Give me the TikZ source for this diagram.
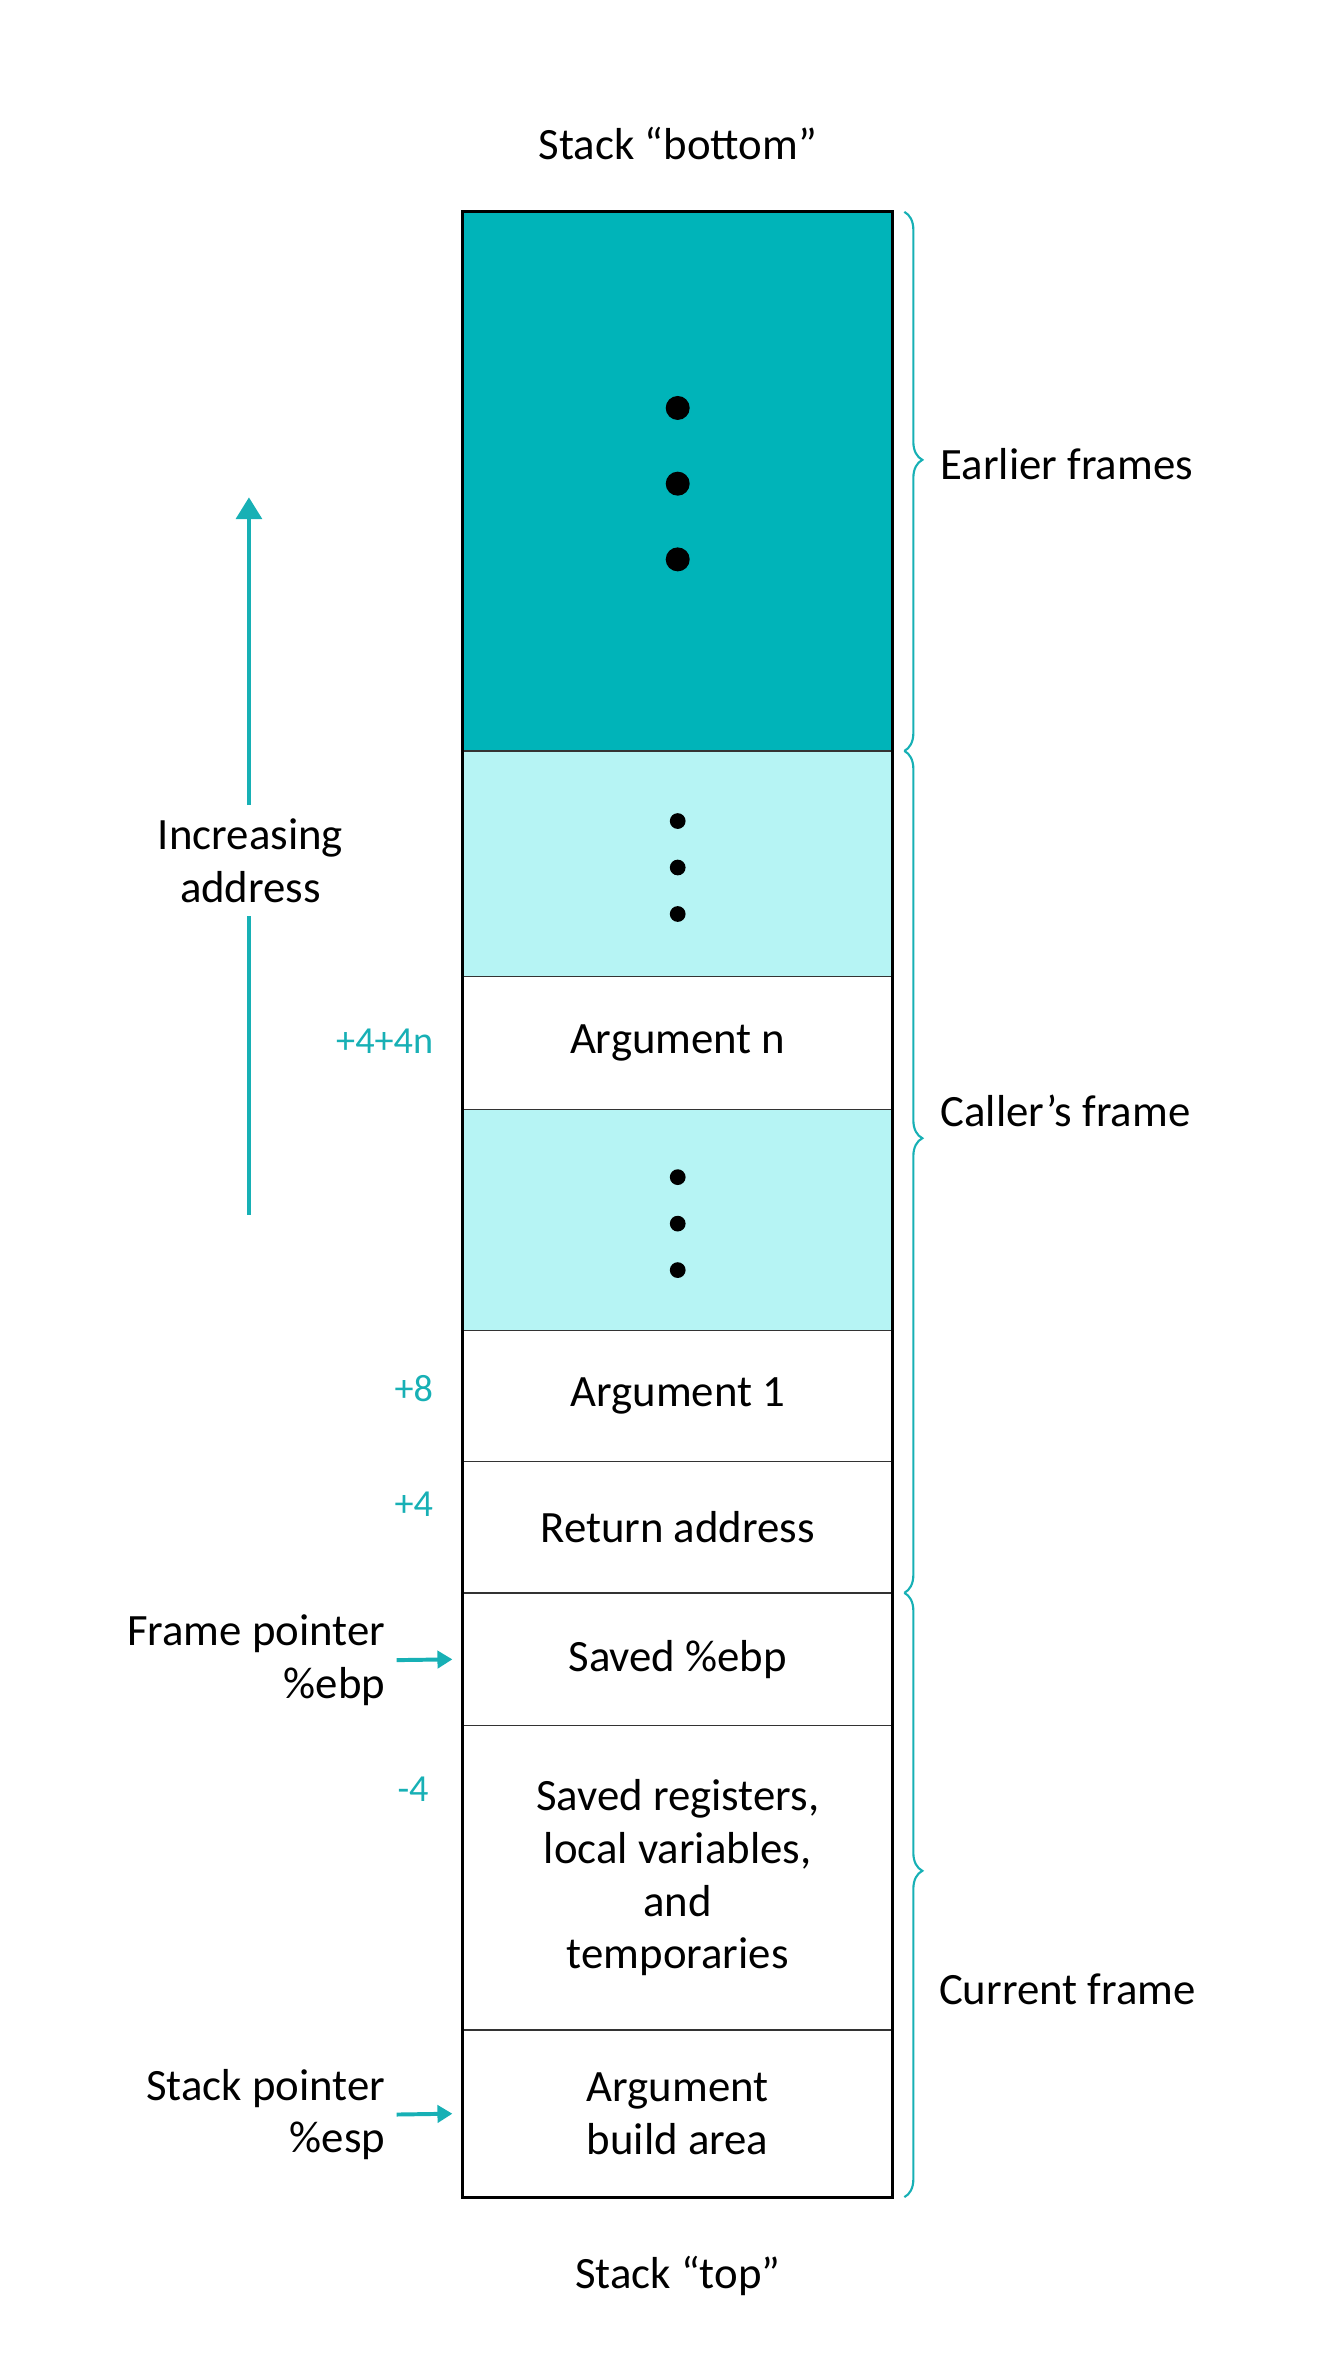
\documentclass[tikz,border=0pt]{standalone}
\usepackage{fontspec}
\setmainfont{Carlito}
\usetikzlibrary{arrows.meta,positioning,decorations.pathreplacing}
\definecolor{DarkTeal}{HTML}{00B4B9}
\definecolor{PaleTeal}{HTML}{B6F4F4}
\definecolor{Accent}{HTML}{17B0B5}

\begin{document}
\begin{tikzpicture}[x=0.02cm, y=-0.02cm, node distance=0cm,
  cell/.style={draw=black!80, line width=0.5pt, minimum width=5.73cm, outer sep=0pt, align=center, font=\fontsize{17}{20}\selectfont},
  txt/.style={font=\fontsize{17}{20}\selectfont, align=center},
  offs/.style={font=\fontsize{14.5}{17}\selectfont, text=Accent, anchor=east},
  bigdot/.style={fill=black, circle, inner sep=0pt, minimum size=0.32cm},
  smalldot/.style={fill=black, circle, inner sep=0pt, minimum size=0.21cm},
  frame brace/.style={draw=Accent, line width=0.8pt, decorate, decoration={brace, amplitude=0.24cm, aspect=0.46, raise=4.5pt}},
  ptr/.style={draw=Accent, line width=1.5pt, -{Triangle[length=2mm,width=2.3mm]}}]
   \useasboundingbox (0,0) rectangle (886,1575);
   \node[txt] (bottom) at (452,95.5) {Stack “bottom”};
   % the stack, from bottom (high addresses) to top
   \node[cell, fill=DarkTeal, minimum height=7.19cm, anchor=north] (early) at (451.9,141.3) {};
   \node[cell, fill=PaleTeal, minimum height=3.01cm, below=of early] (more1) {};
   \node[cell, minimum height=1.77cm, below=of more1] (argn) {Argument n};
   \node[cell, fill=PaleTeal, minimum height=2.95cm, below=of argn] (more2) {};
   \node[cell, minimum height=1.75cm, below=of more2] (arg1) {Argument 1};
   \node[cell, minimum height=1.75cm, below=of arg1] (ret) {Return address};
   \node[cell, minimum height=1.77cm, below=of ret] (ebp) {Saved \%ebp};
   \node[cell, minimum height=4.06cm, below=of ebp] (locals) {Saved registers,\\local variables,\\and\\temporaries};
   \node[cell, minimum height=2.23cm, below=of locals] (build) {Argument\\build area};
   \draw[line width=1.1pt] (early.north west) rectangle (build.south east);
   \node[txt] (top) at (452,1517.5) {Stack “top”};
   % dots
   \foreach \i/\dy in {1/1,2/0,3/-1} {
     \node[bigdot] (bd\i) at ([yshift=1.01*\dy cm-0.03cm]early.center) {};
     \node[smalldot] (sa\i) at ([yshift=0.62*\dy cm-0.05cm]more1.center) {};
     \node[smalldot] (sb\i) at ([yshift=0.62*\dy cm-0.05cm]more2.center) {};
   }
   % frames
   \draw[frame brace] (early.north east) -- (early.south east);
   \draw[frame brace] (more1.north east) -- (ret.south east);
   \draw[frame brace] (ebp.north east) -- (build.south east);
   \node[txt, anchor=west] (earlier) at (621,309.5) {Earlier frames};
   \node[txt, anchor=west] (caller) at (621,740.7) {Caller’s frame};
   \node[txt, anchor=west] (current) at (620,1326.6) {Current frame};
   % address direction
   \node[txt, inner sep=5pt] (incr) at (167,574) {Increasing\\address};
   \coordinate (incfoot) at (166,810);
   \coordinate (inchead) at (166,331.6);
   \draw[Accent, line width=1.7pt] (incfoot) -- (incfoot |- incr.south);
   \draw[Accent, line width=1.7pt, -{Triangle[length=0.29cm,width=0.34cm]}] (inchead |- incr.north) -- (inchead);
   % offsets from %ebp
   \node[offs] (o4n) at (295,694.5) {+4+4n};
   \node[offs] (o8) at (295,925.6) {+8};
   \node[offs] (o4) at (295,1003) {+4};
   \node[offs] (om4) at (292,1193) {-4};
   % pointers
   \node[txt, align=right, anchor=east] (fp) at (263,1107) {Frame pointer\\\%ebp};
   \node[txt, align=right, anchor=east] (sp) at (263,1410) {Stack pointer\\\%esp};
   \draw[ptr, shorten <=0.03cm, shorten >=0.14cm] (fp.east) -- (ebp.west);
   \draw[ptr, shorten <=0.03cm, shorten >=0.14cm] (sp.east) -- (build.west);
\end{tikzpicture}
\end{document}
